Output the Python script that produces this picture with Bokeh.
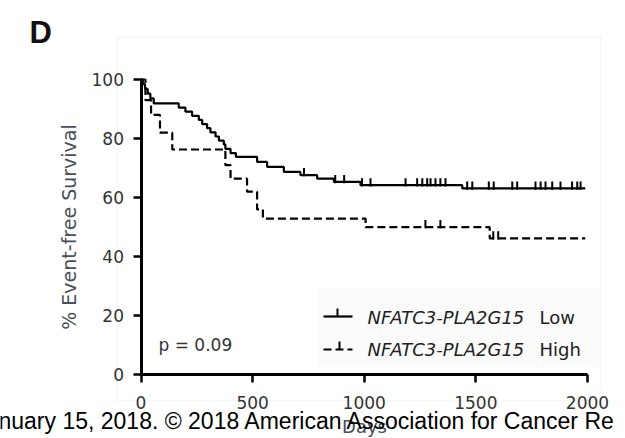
import numpy as np
from bokeh.plotting import figure
from bokeh.models import Range1d, LinearAxis, FixedTicker, Label, BoxAnnotation
from bokeh.embed import file_html
from bokeh.resources import INLINE

# Kaplan-Meier curves: day of each drop and % event-free after it
low_days = [0, 8, 18, 30, 42, 57, 169, 199, 229, 259, 274, 296, 311, 334, 349, 371,
            378, 401, 425, 520, 565, 640, 714, 789, 864, 983, 1439]
low_surv = [100, 98.4, 96.8, 95.2, 93.6, 91.9, 90.5, 89.1, 87.7, 86.3, 84.9, 83.5, 82.1,
            80.7, 79.3, 78.0, 76.5, 75.1, 73.8, 72.1, 70.4, 68.7, 67.6, 66.4, 65.3, 64.2, 63.1]
low_censored = [730, 870, 910, 990, 1028, 1185, 1237, 1260, 1282, 1297, 1319, 1341, 1364,
                1461, 1484, 1558, 1580, 1663, 1685, 1767, 1790, 1812, 1842, 1879, 1931,
                1954, 1969]

high_days = [0, 20, 45, 85, 140, 378, 401, 475, 520, 546, 1006, 1562]
high_surv = [100, 93.0, 88.0, 82.0, 76.3, 71.0, 66.4, 62.0, 56.0, 52.9, 50.0, 46.2]
high_censored = [1274, 1341, 1578, 1600]

follow_up_end = 1990

x_ticks = [0, 500, 1000, 1500, 2000]
y_ticks = [0, 20, 40, 60, 80, 100]
p_value_text = "p = 0.09"
gene_pair = "NFATC3-PLA2G15"
group_levels = ["Low", "High"]

W, H = 625, 438

# pixel placement of the axes inside the page
X0_PX, X2000_PX = 140.5, 587.0
Y0_PX, Y100_PX = 374.3, 79.0
kx = (X2000_PX - X0_PX) / 2000.0
ky = (Y0_PX - Y100_PX) / 100.0


def dx(px):
    return (px - X0_PX) / kx


def dy(py):
    return (Y0_PX - py) / ky


def surv_at(days, surv, t):
    i = np.searchsorted(np.asarray(days), t, side="right") - 1
    return surv[i]


p = figure(width=W, height=H,
           x_range=Range1d(dx(0), dx(W)), y_range=Range1d(dy(H), dy(0)),
           output_backend="svg", toolbar_location=None,
           x_axis_location=None, y_axis_location=None,
           min_border=0, outline_line_color=None)
p.background_fill_color = "white"
p.border_fill_color = "white"
p.grid.visible = False

# thin grey page frame
p.add_layout(BoxAnnotation(left=dx(117), right=dx(600), top=dy(37), bottom=dy(400),
                           fill_alpha=0, line_color="#e2e2e2", line_width=1.5,
                           level="underlay"))
# faint legend panel
p.add_layout(BoxAnnotation(left=dx(317), right=dx(599), top=dy(288), bottom=dy(366),
                           fill_color="#fbfbfb", fill_alpha=1, line_alpha=0,
                           level="underlay"))

TICK_FONT = "DejaVu Sans"

xaxis = LinearAxis(fixed_location=0, bounds=(0, 2000), ticker=FixedTicker(ticks=x_ticks),
                   axis_label="Days")
yaxis = LinearAxis(fixed_location=0, bounds=(0, 100), ticker=FixedTicker(ticks=y_ticks),
                   axis_label="% Event-free Survival")
for ax in (xaxis, yaxis):
    ax.axis_line_width = 3
    ax.axis_line_color = "black"
    ax.major_tick_line_width = 2.5
    ax.major_tick_line_color = "black"
    ax.major_tick_out = 8
    ax.major_tick_in = 0
    ax.minor_tick_line_color = None
    ax.major_label_text_font = TICK_FONT
    ax.major_label_text_font_size = "17px"
    ax.major_label_text_color = "#333333"
    ax.axis_label_text_font = TICK_FONT
    ax.axis_label_text_font_style = "normal"
    ax.axis_label_text_color = "#4a4f5a"
xaxis.axis_label_text_font_size = "18px"
yaxis.axis_label_text_font_size = "19px"
xaxis.major_label_standoff = 13
xaxis.axis_label_standoff = 4
yaxis.major_label_standoff = 9
yaxis.axis_label_standoff = 9
p.add_layout(xaxis, "below")
p.add_layout(yaxis, "left")

# survival curves
lx = low_days + [follow_up_end]
ly = low_surv + [low_surv[-1]]
hx = high_days + [follow_up_end]
hy = high_surv + [high_surv[-1]]
p.step(lx, ly, mode="after", line_color="black", line_width=2.2)
p.step(hx, hy, mode="after", line_color="black", line_width=2.2, line_dash="8 4")

# censor marks
for days, surv, cens in ((low_days, low_surv, low_censored),
                         (high_days, high_surv, high_censored)):
    s = np.array([surv_at(days, surv, t) for t in cens])
    p.segment(x0=cens, y0=s - 0.4, x1=cens, y1=s + 2.4, line_color="black", line_width=2)

# legend keys
p.segment(x0=[dx(323)], y0=[dy(316)], x1=[dx(352)], y1=[dy(316)], line_color="black", line_width=2.2)
p.segment(x0=[dx(337)], y0=[dy(316)], x1=[dx(337)], y1=[dy(308)], line_color="black", line_width=2)
p.segment(x0=[dx(323)], y0=[dy(349)], x1=[dx(352)], y1=[dy(349)], line_color="black", line_width=2.2,
          line_dash="8 4")
p.segment(x0=[dx(339)], y0=[dy(349)], x1=[dx(339)], y1=[dy(341)], line_color="black", line_width=2)

for py, level in zip((317, 349), group_levels):
    p.add_layout(Label(x=dx(367), y=dy(py), text=gene_pair, text_font=TICK_FONT,
                       text_font_size="18px", text_font_style="italic",
                       text_color="#222222", text_baseline="middle"))
    p.add_layout(Label(x=dx(539), y=dy(py), text=level, text_font=TICK_FONT,
                       text_font_size="18px", text_color="#222222", text_baseline="middle"))

p.add_layout(Label(x=dx(158), y=dy(344), text=p_value_text, text_font=TICK_FONT,
                   text_font_size="17px", text_color="#333333", text_baseline="middle"))

# panel letter
p.add_layout(Label(x=dx(29), y=dy(14), text="D", text_font="Liberation Sans",
                   text_font_size="31px", text_font_style="bold", text_color="#111111",
                   text_baseline="top"))

# download footer line running across the bottom
p.add_layout(Label(x=dx(-2), y=dy(420), text="nuary 15, 2018. © 2018 American Association for Cancer Re",
                   text_font="Liberation Sans", text_font_size="23px", text_color="black",
                   text_baseline="middle"))

open("out.html", "w").write(file_html(p, INLINE))
